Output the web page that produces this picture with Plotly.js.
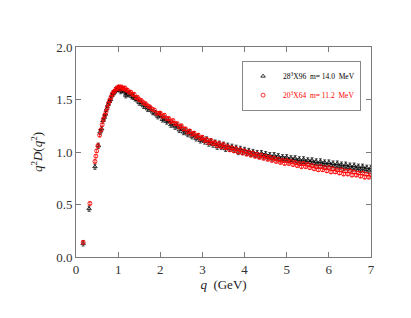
<!DOCTYPE html>
<html>
<head>
<meta charset="utf-8">
<script src="https://cdn.plot.ly/plotly-3.0.1.min.js"></script>
<style>
  html, body { margin: 0; padding: 0; background: #fff; }
  #chart { width: 411px; height: 318px; }
</style>
</head>
<body>
<div id="chart"></div>
<script>
// 28^3 x 96 lattice, m = 14.0 MeV (black triangles)
const qBlack = [0.17, 0.31, 0.45, 0.53, 0.57, 0.61, 0.64, 0.67, 0.70, 0.73, 0.76, 0.79, 0.82, 0.85, 0.88, 0.91, 0.94, 0.97,
  1.00, 1.03, 1.06, 1.09, 1.12, 1.16, 1.18, 1.20, 1.24, 1.28, 1.32, 1.36, 1.40, 1.45, 1.50, 1.55, 1.60, 1.65, 1.70, 1.76,
  1.82, 1.88, 1.94,
  2.00, 2.05, 2.10, 2.15, 2.20, 2.25, 2.30, 2.35, 2.40, 2.45, 2.50, 2.55, 2.60, 2.65, 2.70, 2.75, 2.80, 2.85, 2.90, 2.95,
  3.00, 3.05, 3.10, 3.15, 3.20, 3.25, 3.30, 3.35, 3.40, 3.45, 3.50, 3.55, 3.60, 3.65, 3.70, 3.75, 3.80, 3.85, 3.90, 3.95,
  4.00, 4.05, 4.10, 4.15, 4.20, 4.25, 4.30, 4.35, 4.40, 4.45, 4.50, 4.55, 4.60, 4.65, 4.70, 4.75, 4.80, 4.85, 4.90, 4.95,
  5.00, 5.05, 5.10, 5.15, 5.20, 5.25, 5.30, 5.35, 5.40, 5.45, 5.50, 5.55, 5.60, 5.65, 5.70, 5.75, 5.80, 5.85, 5.90, 5.95,
  6.00, 6.05, 6.10, 6.15, 6.20, 6.25, 6.30, 6.35, 6.40, 6.45, 6.50, 6.55, 6.60, 6.65, 6.70, 6.75, 6.80, 6.85, 6.90, 6.95,
  7.00];
const dBlack = [0.13, 0.46, 0.86, 1.06, 1.19, 1.22, 1.30, 1.33, 1.36, 1.41, 1.45, 1.48, 1.50, 1.54, 1.56, 1.57, 1.59, 1.60,
  1.60, 1.61, 1.58, 1.59, 1.60, 1.57, 1.54, 1.58, 1.55, 1.56, 1.53, 1.53, 1.51, 1.50, 1.47, 1.47, 1.44, 1.44, 1.41, 1.41,
  1.38, 1.37, 1.34,
  1.35, 1.31, 1.32, 1.29, 1.30, 1.26, 1.27, 1.24, 1.25, 1.21, 1.23, 1.19, 1.20, 1.17, 1.19, 1.15, 1.17, 1.13, 1.15, 1.11,
  1.13, 1.10, 1.12, 1.08, 1.10, 1.07, 1.09, 1.05, 1.08, 1.05, 1.07, 1.03, 1.06, 1.03, 1.05, 1.02, 1.04, 1.00, 1.03, 1.00,
  1.02, 0.99, 1.01, 0.98, 1.00, 0.97, 0.99, 0.96, 0.99, 0.96, 0.98, 0.95, 0.97, 0.94, 0.97, 0.94, 0.96, 0.93, 0.95, 0.93,
  0.95, 0.92, 0.94, 0.92, 0.94, 0.91, 0.93, 0.90, 0.93, 0.90, 0.92, 0.90, 0.92, 0.89, 0.91, 0.88, 0.91, 0.88, 0.90, 0.87,
  0.90, 0.87, 0.89, 0.86, 0.89, 0.86, 0.88, 0.85, 0.88, 0.85, 0.87, 0.84, 0.87, 0.84, 0.86, 0.83, 0.86, 0.83, 0.85, 0.82,
  0.85];
const errBlack = 0.025;

// 20^3 x 64 lattice, m = 11.2 MeV (red circles)
const qRed = [0.17, 0.33, 0.45, 0.47, 0.49, 0.52, 0.56, 0.59, 0.62, 0.65, 0.68, 0.71, 0.74, 0.77, 0.80, 0.83, 0.86, 0.89,
  0.92, 0.95, 0.98, 1.01, 1.04, 1.07, 1.10, 1.13, 1.16, 1.19, 1.22, 1.26, 1.30, 1.34, 1.38, 1.42, 1.46, 1.50, 1.55, 1.60,
  1.65, 1.70, 1.75, 1.80, 1.86, 1.92, 1.98,
  2.00, 2.05, 2.10, 2.15, 2.20, 2.25, 2.30, 2.35, 2.40, 2.45, 2.50, 2.55, 2.60, 2.65, 2.70, 2.75, 2.80, 2.85, 2.90, 2.95,
  3.00, 3.05, 3.10, 3.15, 3.20, 3.25, 3.30, 3.35, 3.40, 3.45, 3.50, 3.55, 3.60, 3.65, 3.70, 3.75, 3.80, 3.85, 3.90, 3.95,
  4.00, 4.05, 4.10, 4.15, 4.20, 4.25, 4.30, 4.35, 4.40, 4.45, 4.50, 4.55, 4.60, 4.65, 4.70, 4.75, 4.80, 4.85, 4.90, 4.95,
  5.00, 5.05, 5.10, 5.15, 5.20, 5.25, 5.30, 5.35, 5.40, 5.45, 5.50, 5.55, 5.60, 5.65, 5.70, 5.75, 5.80, 5.85, 5.90, 5.95,
  6.00, 6.05, 6.10, 6.15, 6.20, 6.25, 6.30, 6.35, 6.40, 6.45, 6.50, 6.55, 6.60, 6.65, 6.70, 6.75, 6.80, 6.85, 6.90, 6.95,
  7.00];
const dRed = [0.14, 0.51, 0.91, 0.96, 1.01, 1.06, 1.16, 1.21, 1.26, 1.31, 1.35, 1.38, 1.42, 1.46, 1.49, 1.52, 1.55, 1.57,
  1.58, 1.60, 1.61, 1.62, 1.60, 1.62, 1.61, 1.60, 1.61, 1.59, 1.59, 1.57, 1.57, 1.55, 1.55, 1.52, 1.52, 1.50, 1.49, 1.47,
  1.46, 1.44, 1.43, 1.41, 1.40, 1.37, 1.37,
  1.37, 1.34, 1.35, 1.32, 1.32, 1.29, 1.30, 1.27, 1.27, 1.24, 1.25, 1.22, 1.22, 1.19, 1.20, 1.17, 1.18, 1.15, 1.16, 1.13,
  1.14, 1.11, 1.12, 1.09, 1.11, 1.08, 1.09, 1.06, 1.08, 1.05, 1.07, 1.04, 1.05, 1.02, 1.04, 1.01, 1.03, 1.00, 1.02, 0.99,
  1.01, 0.98, 1.00, 0.97, 0.99, 0.96, 0.98, 0.95, 0.97, 0.94, 0.96, 0.93, 0.95, 0.92, 0.94, 0.91, 0.93, 0.90, 0.92, 0.89,
  0.92, 0.89, 0.91, 0.88, 0.90, 0.87, 0.89, 0.86, 0.89, 0.86, 0.88, 0.85, 0.87, 0.84, 0.86, 0.83, 0.86, 0.83, 0.85, 0.82,
  0.85, 0.81, 0.84, 0.81, 0.83, 0.80, 0.83, 0.79, 0.82, 0.79, 0.82, 0.78, 0.81, 0.78, 0.80, 0.77, 0.80, 0.76, 0.79, 0.76,
  0.78];
const errRed = 0.015;

const xTicks = [0, 1, 2, 3, 4, 5, 6, 7];
const yTicks = [0.0, 0.5, 1.0, 1.5, 2.0];
const yTickText = ['0.0', '0.5', '1.0', '1.5', '2.0'];

const serif = '"Liberation Serif", "DejaVu Serif", serif';
const axisGray = '#7a7a7a';

let blackTrace = {
    x: qBlack,
    y: dBlack,
    type: 'scatter',
    mode: 'markers',
    name: '28<sup>3</sup>X96  m= 14.0  MeV',
    marker: { symbol: 'triangle-up-open', size: 4, color: '#000', line: { width: 0.8 } },
    error_y: { type: 'constant', value: errBlack, color: '#000', thickness: 0.7, width: 1.5 }
};

let redTrace = {
    x: qRed,
    y: dRed,
    type: 'scatter',
    mode: 'markers',
    name: '<span style="color:#ff0000">20<sup>3</sup>X64  m= 11.2  MeV</span>',
    marker: { symbol: 'circle-open', size: 4, color: '#ff0000', line: { width: 0.8 } },
    error_y: { type: 'constant', value: errRed, color: '#ff0000', thickness: 0.7, width: 1.5 }
};

let layout = {
    width: 411,
    height: 318,
    margin: { l: 76, r: 40, t: 47, b: 61 },
    paper_bgcolor: '#fff',
    plot_bgcolor: '#fff',
    font: { family: serif, size: 13, color: '#333' },
    showlegend: true,
    legend: {
        x: 0.563, y: 0.935, xanchor: 'left', yanchor: 'top',
        bgcolor: '#fff', bordercolor: '#888', borderwidth: 1,
        font: { family: serif, size: 7.5, color: '#000' },
        itemwidth: 30
    },
    xaxis: {
        range: [0, 7],
        tickvals: xTicks,
        ticks: 'inside', ticklen: 5, tickcolor: axisGray, tickwidth: 1,
        showline: true, linecolor: axisGray, linewidth: 1, mirror: 'ticks',
        showgrid: false, zeroline: false,
        title: { text: '<i>q</i>  (GeV)', font: { family: serif, size: 13, color: '#222' }, standoff: 2 }
    },
    yaxis: {
        range: [0, 2],
        tickvals: yTicks,
        ticktext: yTickText,
        ticks: 'inside', ticklen: 5, tickcolor: axisGray, tickwidth: 1,
        showline: true, linecolor: axisGray, linewidth: 1, mirror: 'ticks',
        showgrid: false, zeroline: false,
        title: { text: '<i>q</i><sup>2</sup><i>D</i>(<i>q</i><sup>2</sup>)', font: { family: serif, size: 13, color: '#222' }, standoff: 10 }
    }
};

Plotly.newPlot('chart', [blackTrace, redTrace], layout, { displayModeBar: false, staticPlot: true });
</script>
</body>
</html>
